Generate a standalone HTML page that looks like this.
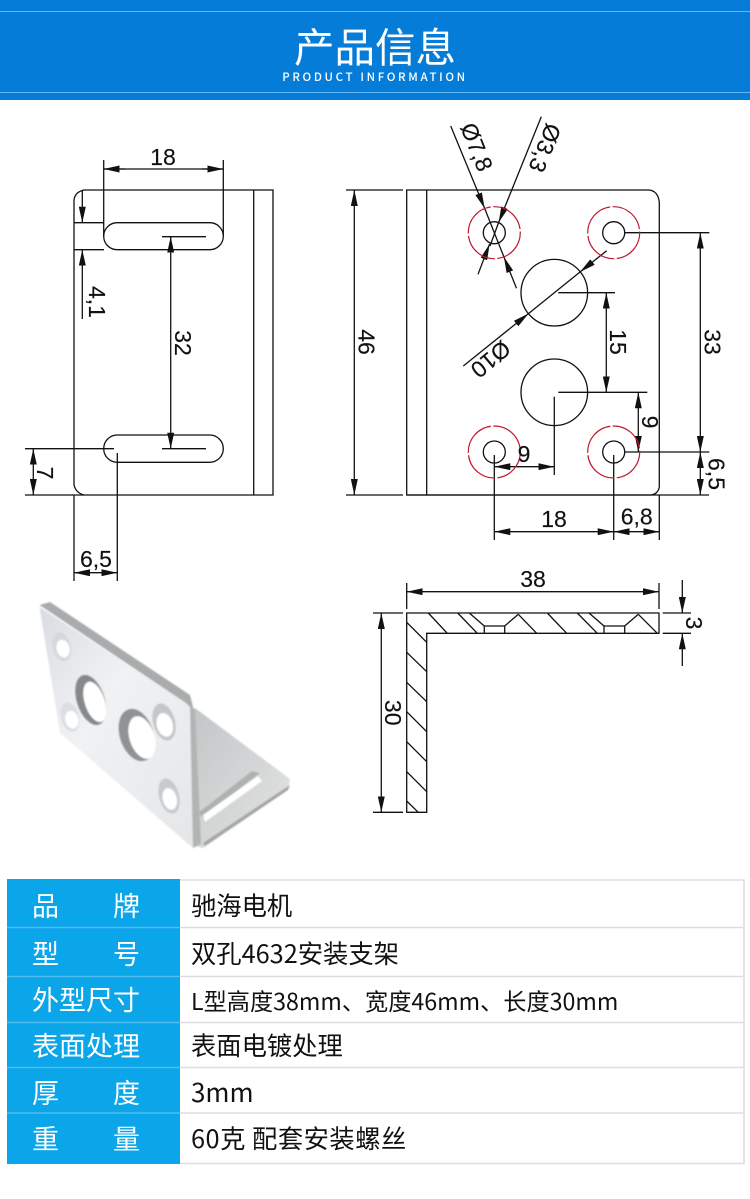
<!DOCTYPE html>
<html lang="zh"><head><meta charset="utf-8"><title>产品信息</title>
<style>
html,body{margin:0;padding:0;background:#fff}
#p{position:relative;width:750px;height:1199px;overflow:hidden;background:#fff;font-family:"Liberation Sans","Noto Sans CJK SC",sans-serif}
.hd{position:absolute;left:0;top:0;width:750px;height:100px;background:#057dd8}
.hl{position:absolute;left:0;width:750px;height:1px;background:#62b9f5}
.t1{position:absolute;left:0;width:750px;text-align:center;top:21px;font:400 40.5px/48px "Noto Sans CJK SC",sans-serif;color:#fff}
.t2{position:absolute;left:0;width:750px;text-align:center;top:69px;font:500 11.5px/16px "Noto Sans CJK SC",sans-serif;color:#fff;letter-spacing:2.65px}
.c{position:absolute;left:7px;width:173px;background:#0ba5e9}
.l{position:absolute;left:0;color:#fff;font:400 27px/30px "Noto Sans CJK SC",sans-serif;white-space:pre}
.v{position:absolute;left:191px;color:#111;font:400 25.3px/30px "Noto Sans CJK SC",sans-serif;white-space:nowrap}
svg{position:absolute;left:0;top:0}
</style></head><body><div id="p">
<div class="hd"></div><div class="hl" style="top:11px"></div><div class="hl" style="top:92px"></div>
<div class="t1">产品信息</div><div class="t2">PRODUCT INFORMATION</div>

<svg width="750" height="870" viewBox="0 0 750 870">
<defs>
<marker id="a" markerUnits="userSpaceOnUse" viewBox="0 0 16 7" refX="16" refY="3.5" markerWidth="16" markerHeight="7" orient="auto"><path d="M0 0L16 3.5L0 7Z" fill="#111"/></marker>
<linearGradient id="f" x1="0" y1="0" x2="1" y2="1"><stop offset="0" stop-color="#d8dce1"/><stop offset=".4" stop-color="#f1f2f4"/><stop offset="1" stop-color="#e3e5e7"/></linearGradient>
<linearGradient id="s" x1="0" y1="0" x2="1" y2="1"><stop offset="0" stop-color="#c2c6c7"/><stop offset="1" stop-color="#e4e5e4"/></linearGradient>
<filter id="b"><feGaussianBlur stdDeviation=".7"/></filter>
</defs>

<!-- photo -->
<g filter="url(#b)">
<path d="M195 708L290 779L288 790L203 848L196 846Z" fill="url(#s)"/>
<path d="M198 813L252 771L260 773L203 817Z" fill="#aeb1b1"/>
<path d="M203 815L258 776L262 781L205 822Z" fill="#fff"/>
<path d="M205 846L288 790L290 785L203 843Z" fill="#a4a6a6"/>
<path d="M39.5 607L185 702L190 707L198 846L193 848L60 733Z" fill="url(#f)"/>
<path d="M39.5 605L50 602L190 695L194 711L186 703Z" fill="#a9abac"/>
<path d="M190 706L195 709L201 844L193 848Z" fill="#b2b3b3"/>
<g transform="rotate(-15 61.7 646.7)"><ellipse cx="61.7" cy="646.7" rx="9" ry="15" fill="#d6d9dc"/><ellipse cx="62.5" cy="649" rx="6.5" ry="9" fill="#fff"/></g>
<g transform="rotate(-15 70 717)"><ellipse cx="70" cy="717" rx="9" ry="15" fill="#dcdfe1"/><ellipse cx="71" cy="720" rx="6.5" ry="9" fill="#fff"/></g>
<g transform="rotate(-18 90.7 700)"><ellipse cx="90.7" cy="700" rx="14" ry="26" fill="#85898c"/><ellipse cx="94" cy="703" rx="10" ry="21" fill="#fff"/></g>
<g transform="rotate(-18 136.7 735)"><ellipse cx="136.7" cy="735" rx="17" ry="27" fill="#8f9396"/><ellipse cx="141" cy="739" rx="12.5" ry="22" fill="#fff"/></g>
<g transform="rotate(-15 164 722)"><ellipse cx="164" cy="722" rx="11" ry="19" fill="#c4c7c9"/><ellipse cx="164" cy="725" rx="8" ry="12" fill="#fff"/></g>
<g transform="rotate(-15 169 796)"><ellipse cx="169" cy="796" rx="10" ry="18" fill="#c8cbcd"/><ellipse cx="169" cy="799" rx="7" ry="11" fill="#fff"/></g>
</g>

<g fill="none" stroke="#111" stroke-width="1.3">
<!-- left view -->
<path d="M84 190H273V495H84Q76 493 74 485V200Q75 192 84 190Z"/>
<path d="M253.7 190V495M25 495H84"/>
<rect x="103.7" y="222.7" width="119.6" height="27" rx="13.5"/>
<rect x="103.7" y="435" width="119.6" height="27.3" rx="13.6"/>
<path d="M103.7 160V236M223.3 160V236"/>
<path d="M103.7 169H223.3"/>
<path d="M125 169H103.7" marker-end="url(#a)"/><path d="M202 169H223.3" marker-end="url(#a)"/>
<path d="M74 222.7H104M74 249.7H104"/>
<path d="M82.3 190V222.7" marker-end="url(#a)"/>
<path d="M82.3 319V249.7" marker-end="url(#a)"/>
<path d="M162 236.7H206M162 448.7H206"/>
<path d="M170.7 343V236.7" marker-end="url(#a)"/><path d="M170.7 343V448.7" marker-end="url(#a)"/>
<path d="M25 448.7H114"/>
<path d="M33.3 472V448.7" marker-end="url(#a)"/><path d="M33.3 472V495" marker-end="url(#a)"/>
<path d="M74 495V581M117.3 453V581"/>
<path d="M96 572.7H74" marker-end="url(#a)"/><path d="M96 572.7H117.3" marker-end="url(#a)"/>

<!-- right view -->
<path d="M406.7 190H649Q658 191 659.3 202V487Q658 494 651 495H406.7Z"/>
<path d="M426.7 190V495"/>
<circle cx="494.3" cy="232.7" r="11"/><circle cx="613.7" cy="232.7" r="11"/>
<circle cx="494.3" cy="452" r="11"/><circle cx="613.7" cy="452" r="11"/>
<circle cx="554.3" cy="292.7" r="33.3"/><circle cx="554.3" cy="392.3" r="33.3"/>
<path d="M346 190H403M346 495H403M406.7 495H709"/>
<path d="M354.3 342V190" marker-end="url(#a)"/><path d="M354.3 342V495" marker-end="url(#a)"/>
<path d="M450.7 126L484.7 208.5" marker-end="url(#a)"/><path d="M484.7 208.5L503.9 256.9"/><path d="M516.5 288.3L503.9 256.9" marker-end="url(#a)"/>
<path d="M541.3 116.7L498.6 222.5" marker-end="url(#a)"/><path d="M498.6 222.5L490 246"/><path d="M478 274.3L489.6 244" marker-end="url(#a)"/>
<path d="M463.3 366L528.6 313.5" marker-end="url(#a)"/><path d="M528.6 313.5L580 272"/><path d="M606.7 250.7L580 272" marker-end="url(#a)"/>
<path d="M558.3 292.7H615M558.3 392.3H647.3"/>
<path d="M606.3 342V292.7" marker-end="url(#a)"/><path d="M606.3 342V392.3" marker-end="url(#a)"/>
<path d="M638.3 420V392.3" marker-end="url(#a)"/><path d="M638.3 420V452" marker-end="url(#a)"/>
<path d="M625 232.7H709.3M625 452H709.3"/>
<path d="M700.3 342V232.7" marker-end="url(#a)"/><path d="M700.3 342V452" marker-end="url(#a)"/>
<path d="M700.3 473V452" marker-end="url(#a)"/><path d="M700.3 473V495" marker-end="url(#a)"/>
<path d="M494.3 455V540M613.7 455V540M659.3 495V540"/>
<path d="M554 531.7H494.3" marker-end="url(#a)"/><path d="M554 531.7H613.7" marker-end="url(#a)"/>
<path d="M636 531.7H613.7" marker-end="url(#a)"/><path d="M636 531.7H659.3" marker-end="url(#a)"/>
<path d="M554.3 396.7V475"/>
<path d="M524 466.7H494.3" marker-end="url(#a)"/><path d="M524 466.7H554.3" marker-end="url(#a)"/>

<!-- section -->
<path d="M406.7 613H659V633.3H426.7V812.3H406.7Z"/>
<path d="M406.7 583V609M659 583V609"/>
<path d="M533 591.7H406.7" marker-end="url(#a)"/><path d="M533 591.7H659" marker-end="url(#a)"/>
<path d="M373 613H403M373 812.3H403"/>
<path d="M381.3 712V613" marker-end="url(#a)"/><path d="M381.3 712V812.3" marker-end="url(#a)"/>
<path d="M662.7 613H691M662.7 633.3H691"/>
<path d="M682.3 580V613" marker-end="url(#a)"/><path d="M682.3 666V633.3" marker-end="url(#a)"/>
<path d="M428.3 613L447.3 633.3M457.7 613L477.3 633.3M469.3 613L484.3 626M518.3 614.3L536.7 633.3M547.3 613L566.7 633.3M577.3 613L597.3 633.3M589 613L604 626M638.3 614.3L657.3 633.3"/>
<path d="M484.3 633.3V626H504.7V633.3M504.7 626L518.3 614.3M604 633.3V626H624.7V633.3M624.7 626L638.3 614.3"/>
<path d="M406.7 622.3L426.7 642.3M406.7 652.3L426.7 671.7M406.7 682.3L426.7 701.7M406.7 711.7L426.7 731.7M406.7 741.7L426.7 761.7M406.7 771.7L426.7 791.7M406.7 801L418.3 812.3"/>
</g>
<g fill="none" stroke="#c2182f" stroke-width="1.2" stroke-dasharray="23.5 1.5">
<circle cx="494.3" cy="232.7" r="26" pathLength="100" transform="rotate(-1 494.3 232.7)"/>
<circle cx="613.7" cy="232.7" r="26" pathLength="100" transform="rotate(-1 613.7 232.7)"/>
<circle cx="494.3" cy="452" r="26" pathLength="100" transform="rotate(-1 494.3 452)"/>
<circle cx="613.7" cy="452" r="26" pathLength="100" transform="rotate(-1 613.7 452)"/>
</g>
<g font-family="'Liberation Sans',sans-serif" font-size="23" fill="#111" stroke="#111" stroke-width=".15" text-anchor="middle" dominant-baseline="central">
<text x="163" y="157">18</text>
<text transform="translate(97 302) rotate(90)">4,1</text>
<text transform="translate(183 343) rotate(90)">32</text>
<text transform="translate(45 473) rotate(90)">7</text>
<text x="96" y="559">6,5</text>
<text transform="translate(366.7 342) rotate(90)">46</text>
<text transform="translate(476.7 147) rotate(68)">Ø7,8</text>
<text transform="translate(545 148) rotate(112)">Ø3,3</text>
<text transform="translate(490.7 359.3) rotate(140)">Ø10</text>
<text transform="translate(618 342) rotate(90)">15</text>
<text transform="translate(650 422) rotate(90)">9</text>
<text transform="translate(712.7 342) rotate(90)">33</text>
<text transform="translate(716.7 474) rotate(90)">6,5</text>
<text x="524" y="454">9</text>
<text x="554" y="519">18</text>
<text x="636.7" y="516.7">6,8</text>
<text x="533" y="579">38</text>
<text transform="translate(393 712.7) rotate(90)">30</text>
<text transform="translate(694 623) rotate(90)">3</text>
</g>
</svg>

<div class="c" style="top:879px;height:284.5px"></div>
<svg width="750" height="1199" viewBox="0 0 750 1199" style="pointer-events:none">
<g fill="none" stroke="#ddd" stroke-width="1.6">
<path d="M180 880H744V1163.5H180M744 880V1163.5"/>
<path d="M180 927.5H743M180 976.5H743M180 1022.5H743M180 1067.5H743M180 1113H743"/>
</g>
<g fill="none" stroke="#4fbcee" stroke-width="1.6">
<path d="M7 927.5H180M7 976.5H180M7 1022.5H180M7 1067.5H180M7 1113H180"/>
</g>
</svg>
<div class="l" style="left:32px;top:890px">品</div><div class="l" style="left:113px;top:890px">牌</div>
<div class="l" style="left:32px;top:938px">型</div><div class="l" style="left:113px;top:938px">号</div>
<div class="l" style="left:32px;top:984px">外型尺寸</div>
<div class="l" style="left:32px;top:1030px">表面处理</div>
<div class="l" style="left:32px;top:1077px">厚</div><div class="l" style="left:113px;top:1077px">度</div>
<div class="l" style="left:32px;top:1123px">重</div><div class="l" style="left:113px;top:1123px">量</div>
<div class="v" style="top:890px">驰海电机</div>
<div class="v" style="top:938px">双孔4632安装支架</div>
<div class="v" style="top:985px;font-size:23.2px">L型高度38mm、宽度46mm、长度30mm</div>
<div class="v" style="top:1030px">表面电镀处理</div>
<div class="v" style="top:1077px;font-size:26px">3mm</div>
<div class="v" style="top:1123px;letter-spacing:.5px">60克 配套安装螺丝</div>
</div></body></html>
